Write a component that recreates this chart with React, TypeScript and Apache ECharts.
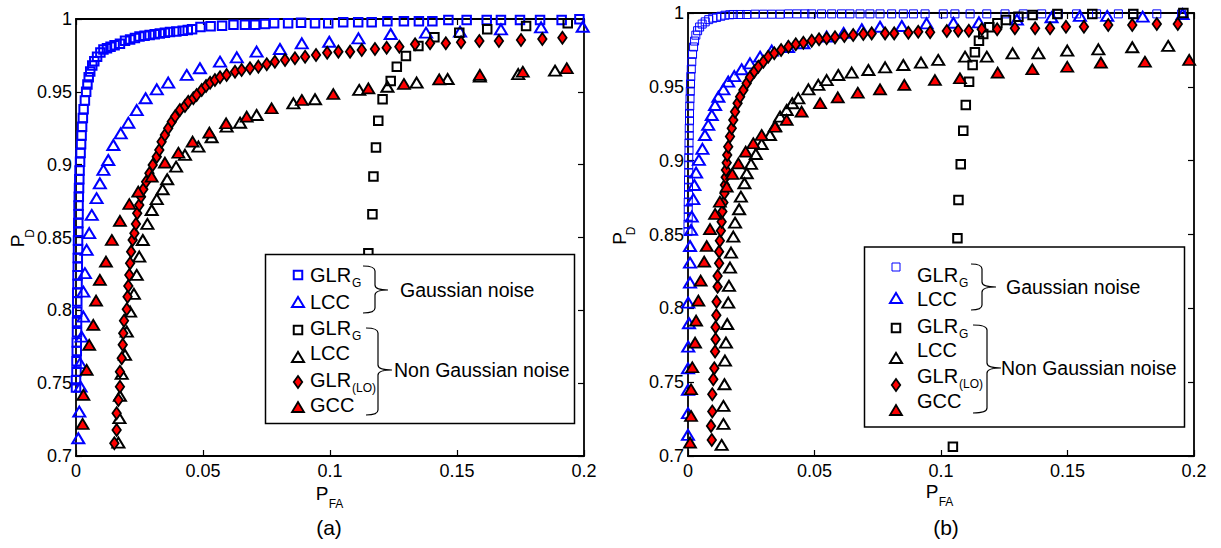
import React, { useEffect, useRef } from "react";
import * as echarts from "echarts";

const FONT = "'Liberation Sans', Arial, Helvetica, sans-serif";

// ---------- (a) ----------
const aGlrGauss: number[][] = [
  [0.0, 0.747], [0.0, 0.752], [0.0002, 0.758], [0.0002, 0.765], [0.0003, 0.772], [0.0003, 0.778],
  [0.0004, 0.785], [0.0004, 0.792], [0.0005, 0.799], [0.0005, 0.806], [0.0005, 0.812], [0.0006, 0.818],
  [0.0006, 0.824], [0.0007, 0.83], [0.0007, 0.836], [0.0008, 0.842], [0.0008, 0.848], [0.0009, 0.854],
  [0.0009, 0.86], [0.001, 0.866], [0.001, 0.872], [0.0011, 0.878], [0.0012, 0.884], [0.0013, 0.89],
  [0.0014, 0.896], [0.0016, 0.902], [0.0018, 0.908], [0.002, 0.914], [0.0022, 0.92], [0.0024, 0.926],
  [0.0027, 0.932], [0.003, 0.938], [0.0035, 0.944], [0.004, 0.95], [0.0045, 0.955], [0.005, 0.96],
  [0.0056, 0.964], [0.0064, 0.968], [0.0072, 0.971], [0.0083, 0.974], [0.0096, 0.977], [0.0108, 0.979],
  [0.0122, 0.98], [0.0136, 0.981], [0.0152, 0.982], [0.0173, 0.983], [0.0193, 0.985], [0.0213, 0.986],
  [0.0232, 0.987], [0.025, 0.988], [0.027, 0.9885], [0.029, 0.989], [0.031, 0.9895], [0.033, 0.99],
  [0.035, 0.9905], [0.037, 0.991], [0.0395, 0.9915], [0.042, 0.992], [0.044, 0.9925], [0.0457, 0.993],
  [0.049, 0.9945], [0.053, 0.995], [0.0575, 0.9953], [0.062, 0.996], [0.0665, 0.996], [0.0705, 0.996],
  [0.0744, 0.9966], [0.078, 0.997], [0.0835, 0.997], [0.0886, 0.9974], [0.0941, 0.997], [0.0993, 0.997],
  [0.1052, 0.9977], [0.1111, 0.9977], [0.1164, 0.9977], [0.1226, 0.9984], [0.1291, 0.9984], [0.135, 0.9984],
  [0.1403, 0.9984], [0.1466, 0.9993], [0.1538, 0.9993], [0.1617, 0.9993], [0.1673, 0.9993], [0.1748, 0.9993],
  [0.1827, 0.9993], [0.1912, 0.9993], [0.1982, 0.9998],
];
const aLccGauss: number[][] = [
  [0.0009, 0.7122], [0.0013, 0.7305], [0.0018, 0.7476], [0.0016, 0.7637], [0.0022, 0.782], [0.0029, 0.7957],
  [0.0029, 0.8128], [0.0035, 0.8255], [0.0042, 0.8415], [0.0052, 0.853], [0.0062, 0.8655], [0.0081, 0.877],
  [0.0094, 0.8872], [0.0108, 0.8964], [0.0127, 0.9032], [0.0147, 0.9135], [0.0176, 0.9215], [0.0206, 0.9288],
  [0.0239, 0.9375], [0.0274, 0.9456], [0.0318, 0.9517], [0.0363, 0.9563], [0.0436, 0.9616], [0.0488, 0.9662],
  [0.0567, 0.9707], [0.0633, 0.9737], [0.0711, 0.9776], [0.0803, 0.9794], [0.0889, 0.9833], [0.0997, 0.9844],
  [0.1112, 0.9867], [0.1239, 0.9897], [0.1378, 0.9906], [0.1512, 0.9913], [0.1673, 0.9929], [0.1831, 0.9943],
  [0.1995, 0.9947],
];
const aGlrNonGauss: number[][] = [
  [0.1151, 0.8392], [0.1167, 0.866], [0.1171, 0.8918], [0.1181, 0.9117], [0.119, 0.9302], [0.1207, 0.9449],
  [0.1239, 0.9574], [0.1263, 0.9673], [0.1299, 0.9746], [0.1348, 0.9815], [0.1411, 0.9874], [0.1509, 0.9906],
  [0.1619, 0.9929], [0.1772, 0.9952], [0.1936, 0.997],
];
const aLccNonGauss: number[][] = [
  [0.0167, 0.7092], [0.0171, 0.726], [0.0173, 0.7413], [0.018, 0.7564], [0.0193, 0.7694], [0.02, 0.7854],
  [0.0213, 0.7991], [0.0228, 0.8113], [0.0239, 0.8243], [0.0249, 0.8369], [0.0263, 0.8483], [0.0281, 0.8593],
  [0.0298, 0.8689], [0.0318, 0.8763], [0.0341, 0.8831], [0.0359, 0.89], [0.0394, 0.8986], [0.0429, 0.9067],
  [0.0482, 0.9124], [0.0534, 0.9188], [0.0593, 0.9261], [0.0646, 0.9288], [0.0711, 0.9341], [0.0856, 0.9421],
  [0.0941, 0.9449], [0.1115, 0.9513], [0.1226, 0.9535], [0.1341, 0.9563], [0.1463, 0.9588], [0.159, 0.9604],
  [0.1741, 0.9622], [0.1886, 0.9645],
];
const aGlrLo: number[][] = [
  [0.0151, 0.7088], [0.016, 0.7179], [0.016, 0.7294], [0.0167, 0.7385], [0.0173, 0.7476], [0.0173, 0.7579],
  [0.018, 0.7671], [0.0184, 0.7763], [0.0186, 0.7843], [0.0189, 0.7929], [0.02, 0.8007], [0.0203, 0.8094],
  [0.0206, 0.8167], [0.021, 0.8243], [0.0213, 0.8323], [0.0217, 0.8403], [0.0223, 0.8483], [0.023, 0.8529],
  [0.0236, 0.8593], [0.0241, 0.8666], [0.0249, 0.8723], [0.0256, 0.878], [0.0265, 0.8831], [0.0276, 0.8883],
  [0.0289, 0.8941], [0.0302, 0.8998], [0.0318, 0.9055], [0.0328, 0.9101], [0.0337, 0.9158], [0.035, 0.9204],
  [0.0363, 0.925], [0.0377, 0.9295], [0.039, 0.933], [0.0409, 0.9375], [0.0429, 0.9403], [0.0442, 0.9432],
  [0.0462, 0.9456], [0.0475, 0.9478], [0.0495, 0.9513], [0.0512, 0.954], [0.0528, 0.9563], [0.0547, 0.9581],
  [0.0567, 0.96], [0.0593, 0.9616], [0.0626, 0.9638], [0.0652, 0.965], [0.0685, 0.9662], [0.0718, 0.9673],
  [0.0751, 0.9689], [0.0783, 0.9707], [0.0823, 0.9719], [0.0862, 0.973], [0.0902, 0.9741], [0.0945, 0.9753],
  [0.0989, 0.9769], [0.1033, 0.9776], [0.1079, 0.9776], [0.1125, 0.9787], [0.1177, 0.9794], [0.1223, 0.9803],
  [0.1273, 0.981], [0.1335, 0.9826], [0.1394, 0.9833], [0.1456, 0.9833], [0.1516, 0.984], [0.1588, 0.9849],
  [0.1665, 0.9849], [0.1752, 0.9856], [0.1836, 0.9863], [0.1915, 0.9872],
];
const aGcc: number[][] = [
  [0.0026, 0.722], [0.0029, 0.742], [0.0042, 0.7591], [0.0052, 0.7763], [0.0068, 0.79], [0.0079, 0.8067],
  [0.0094, 0.8209], [0.0118, 0.8334], [0.0141, 0.8483], [0.0173, 0.8614], [0.021, 0.873], [0.0245, 0.8815],
  [0.0298, 0.8918], [0.035, 0.9014], [0.0403, 0.9082], [0.0459, 0.9158], [0.0525, 0.922], [0.0591, 0.9284],
  [0.0672, 0.933], [0.077, 0.9387], [0.0889, 0.9444], [0.1013, 0.9485], [0.1151, 0.9524], [0.1291, 0.9554],
  [0.143, 0.9586], [0.159, 0.9616], [0.1759, 0.9638], [0.1932, 0.9662],
];

// ---------- (b) ----------
const bGlrGauss: number[][] = [
  [0.0, 0.852], [0.0, 0.857], [0.0001, 0.862], [0.0001, 0.867], [0.0001, 0.872], [0.0002, 0.877],
  [0.0002, 0.882], [0.0002, 0.887], [0.0003, 0.892], [0.0003, 0.897], [0.0003, 0.902], [0.0004, 0.907],
  [0.0004, 0.912], [0.0005, 0.917], [0.0005, 0.922], [0.0006, 0.927], [0.0006, 0.932], [0.0007, 0.937],
  [0.0008, 0.942], [0.0009, 0.947], [0.001, 0.952], [0.0011, 0.957], [0.0013, 0.962], [0.0015, 0.967],
  [0.0018, 0.972], [0.0022, 0.977], [0.0026, 0.981], [0.0031, 0.985], [0.0038, 0.988], [0.0046, 0.9905],
  [0.0056, 0.9925], [0.0068, 0.994], [0.0082, 0.9955], [0.0098, 0.9965], [0.0113, 0.997], [0.013, 0.9978],
  [0.0146, 0.9985], [0.0165, 0.9988], [0.0179, 0.999], [0.0206, 0.999], [0.0232, 0.999], [0.0265, 0.9992],
  [0.0298, 0.9992], [0.0331, 0.9992], [0.0364, 0.9992], [0.0397, 0.9994], [0.043, 0.9994], [0.0462, 0.9994],
  [0.0489, 0.9994], [0.0528, 0.9994], [0.0568, 0.9994], [0.0607, 0.9994], [0.064, 0.9994], [0.068, 0.9994],
  [0.0719, 0.9994], [0.0759, 0.9994], [0.0805, 0.9994], [0.0851, 0.9994], [0.0891, 0.9994], [0.0937, 0.9994],
  [0.1009, 0.9994], [0.1055, 0.9994], [0.1115, 0.9994], [0.1181, 0.9994], [0.1253, 0.9994], [0.1325, 0.9994],
  [0.1398, 0.9994], [0.1464, 0.9994], [0.1536, 0.9994], [0.1615, 0.9994], [0.1701, 0.9994], [0.176, 0.9994],
  [0.1853, 0.9994], [0.1951, 0.9994],
];
const bLccGauss: number[][] = [
  [0.0, 0.7143], [0.0, 0.729], [0.0, 0.7448], [0.0, 0.7594], [0.0001, 0.7741], [0.0004, 0.7899],
  [0.0001, 0.8039], [0.0008, 0.8174], [0.0008, 0.8309], [0.0008, 0.8422], [0.0012, 0.8531], [0.0015, 0.8621],
  [0.0021, 0.8739], [0.0025, 0.8835], [0.0032, 0.8919], [0.0043, 0.9005], [0.0057, 0.908], [0.0067, 0.9174],
  [0.008, 0.9242], [0.0094, 0.9309], [0.0107, 0.9377], [0.012, 0.9433], [0.014, 0.9483], [0.0159, 0.9535],
  [0.0183, 0.9573], [0.0212, 0.9619], [0.0245, 0.9659], [0.0285, 0.9704], [0.0331, 0.9745], [0.0395, 0.977],
  [0.0456, 0.9795], [0.0548, 0.984], [0.0615, 0.9865], [0.0687, 0.989], [0.0759, 0.9907], [0.0845, 0.9912],
  [0.0943, 0.993], [0.1049, 0.9934], [0.115, 0.9937], [0.13, 0.9955], [0.1437, 0.9971], [0.1549, 0.998],
  [0.1657, 0.998], [0.1797, 0.9975], [0.1955, 0.9993],
];
const bGlrNonGauss: number[][] = [
  [0.1047, 0.7062], [0.1065, 0.8475], [0.1069, 0.8734], [0.1078, 0.8976], [0.1088, 0.9203], [0.1098, 0.9377],
  [0.1111, 0.9535], [0.1125, 0.9648], [0.1134, 0.9734], [0.115, 0.9812], [0.1167, 0.9858], [0.1191, 0.9903],
  [0.1223, 0.993], [0.1257, 0.9953], [0.1306, 0.9975], [0.1362, 0.9986], [0.146, 0.9993], [0.1598, 0.9993],
  [0.176, 0.9993], [0.1958, 1.0],
];
const bLccNonGauss: number[][] = [
  [0.0133, 0.7075], [0.014, 0.7217], [0.014, 0.7339], [0.0144, 0.7486], [0.0146, 0.7646], [0.015, 0.7768],
  [0.0155, 0.7894], [0.0159, 0.8039], [0.0162, 0.8152], [0.0166, 0.8276], [0.017, 0.8377], [0.0179, 0.8486],
  [0.0186, 0.858], [0.0202, 0.8671], [0.0209, 0.8756], [0.0223, 0.8847], [0.0232, 0.8915], [0.0249, 0.8978],
  [0.0268, 0.9045], [0.0291, 0.9113], [0.0324, 0.9174], [0.0344, 0.9235], [0.0364, 0.9298], [0.039, 0.9343],
  [0.0412, 0.9389], [0.0436, 0.9422], [0.0476, 0.9483], [0.0515, 0.9513], [0.0548, 0.9546], [0.0594, 0.958],
  [0.0647, 0.9596], [0.0713, 0.9614], [0.0779, 0.9632], [0.0851, 0.9648], [0.0921, 0.9664], [0.0989, 0.9682],
  [0.1095, 0.9704], [0.1181, 0.9704], [0.1283, 0.9727], [0.1385, 0.9727], [0.1499, 0.9745], [0.1622, 0.9754],
  [0.1756, 0.9768], [0.1898, 0.9777],
];
const bGlrLo: number[][] = [
  [0.0094, 0.7109], [0.0091, 0.7204], [0.0096, 0.7301], [0.0096, 0.7418], [0.01, 0.752], [0.0104, 0.7594],
  [0.0107, 0.7707], [0.0109, 0.7791], [0.0109, 0.7872], [0.0112, 0.7953], [0.0113, 0.8045], [0.0117, 0.8147],
  [0.0117, 0.8219], [0.0123, 0.8305], [0.0123, 0.8384], [0.0126, 0.8458], [0.013, 0.8526], [0.0133, 0.8587],
  [0.0136, 0.8655], [0.014, 0.8716], [0.0144, 0.8779], [0.0146, 0.8835], [0.0149, 0.8888], [0.015, 0.8937],
  [0.0153, 0.8986], [0.0155, 0.9039], [0.0159, 0.9095], [0.0166, 0.9163], [0.0173, 0.9219], [0.0179, 0.9276],
  [0.0186, 0.9332], [0.0196, 0.9389], [0.0206, 0.9433], [0.0219, 0.9479], [0.0232, 0.9524], [0.0245, 0.9565],
  [0.0262, 0.9603], [0.0278, 0.9636], [0.0298, 0.967], [0.0317, 0.9704], [0.0341, 0.9727], [0.0368, 0.9749],
  [0.0397, 0.9772], [0.0426, 0.9788], [0.0456, 0.9799], [0.0489, 0.9812], [0.0518, 0.9822], [0.0548, 0.9829],
  [0.0581, 0.9835], [0.0618, 0.9844], [0.0653, 0.9851], [0.0693, 0.9858], [0.0726, 0.9862], [0.0779, 0.9862],
  [0.0815, 0.9862], [0.0871, 0.9867], [0.091, 0.9873], [0.0957, 0.9869], [0.1023, 0.9878], [0.1068, 0.988],
  [0.111, 0.988], [0.1161, 0.989], [0.1222, 0.989], [0.1292, 0.9896], [0.1372, 0.9896], [0.1431, 0.9896],
  [0.1494, 0.9907], [0.1565, 0.9907], [0.1661, 0.9919], [0.1756, 0.9919], [0.1853, 0.9926], [0.1936, 0.9926],
];
const bGcc: number[][] = [
  [0.0008, 0.7091], [0.0012, 0.7271], [0.0012, 0.7452], [0.0017, 0.7601], [0.0028, 0.7768], [0.0032, 0.7917],
  [0.0041, 0.8052], [0.005, 0.8188], [0.0064, 0.8316], [0.0074, 0.8422], [0.0087, 0.8536], [0.0107, 0.8639],
  [0.0126, 0.8722], [0.0153, 0.8824], [0.0175, 0.891], [0.0199, 0.8982], [0.0228, 0.9061], [0.0258, 0.9118],
  [0.0291, 0.9174], [0.0344, 0.923], [0.039, 0.9276], [0.0449, 0.9332], [0.0522, 0.9389], [0.0592, 0.9429],
  [0.0671, 0.946], [0.0759, 0.9483], [0.0855, 0.9513], [0.0976, 0.9546], [0.1075, 0.9558], [0.1224, 0.9596],
  [0.1361, 0.9619], [0.1499, 0.9636], [0.1632, 0.9664], [0.1806, 0.967], [0.1981, 0.9682],
];

// Axis ranges and ticks
const X_MIN = 0, X_MAX = 0.2, X_STEP = 0.05;
const Y_MIN = 0.7, Y_MAX = 1, Y_STEP = 0.05;

const BLUE = "#0000ff";
const RED = "#ff0000";
const BLACK = "#000000";
const HOLLOW = "rgba(0,0,0,0)";

// Curly braces for the legend groups
function braceD(x0: number, y0: number, y1: number, xv: number, xt: number, ym: number) {
  const r = 5;
  return `M${x0} ${y0} Q${xv} ${y0} ${xv} ${y0 + r} L${xv} ${ym - r} Q${xv} ${ym} ${xt} ${ym} ` +
    `Q${xv} ${ym} ${xv} ${ym + r} L${xv} ${y1 - r} Q${xv} ${y1} ${x0} ${y1}`;
}
echarts.graphic.registerShape("braceA1", echarts.graphic.extendPath(braceD(363, 266, 313, 375, 388, 290), {}));
echarts.graphic.registerShape("braceA2", echarts.graphic.extendPath(braceD(366, 328, 415, 378, 392, 370), {}));
echarts.graphic.registerShape("braceB1", echarts.graphic.extendPath(braceD(971, 264, 310, 982, 996, 287), {}));
echarts.graphic.registerShape("braceB2", echarts.graphic.extendPath(braceD(973, 325, 413, 987, 1001, 368), {}));

const fmt = (v: number) => String(Number(v.toFixed(2)));

function xAxis(gridIndex: number, position: "bottom" | "top") {
  return {
    type: "value", gridIndex, position, min: X_MIN, max: X_MAX, interval: X_STEP,
    axisLine: { show: true, onZero: false, lineStyle: { color: BLACK, width: 1.8 } },
    axisTick: { show: true, inside: true, length: 6, lineStyle: { color: BLACK, width: 1.2 } },
    axisLabel: {
      show: position === "bottom", margin: 6, color: BLACK, fontSize: 18, fontFamily: FONT,
      formatter: fmt, showMinLabel: true, showMaxLabel: true,
    },
    splitLine: { show: false },
  };
}
function yAxis(gridIndex: number, position: "left" | "right") {
  return {
    type: "value", gridIndex, position, min: Y_MIN, max: Y_MAX, interval: Y_STEP,
    axisLine: { show: true, onZero: false, lineStyle: { color: BLACK, width: 1.8 } },
    axisTick: { show: true, inside: true, length: 6, lineStyle: { color: BLACK, width: 1.2 } },
    axisLabel: {
      show: position === "left", margin: 4, color: BLACK, fontSize: 18, fontFamily: FONT,
      formatter: fmt, showMinLabel: true, showMaxLabel: true,
    },
    splitLine: { show: false },
  };
}

type Mk = "sq" | "tri" | "dia";
function symbolSizeOf(mk: Mk, thin: boolean) {
  if (mk === "sq") return thin ? 8 : 8.5;
  if (mk === "tri") return [12, 10];
  return [8.5, 12];
}
function series(name: string, data: number[][], axis: number, mk: Mk, stroke: string, fill: string, lw: number) {
  const symbol = mk === "sq" ? "rect" : mk === "tri" ? "triangle" : "diamond";
  return {
    type: "scatter", name, data, xAxisIndex: axis, yAxisIndex: axis, symbol,
    symbolSize: symbolSizeOf(mk, lw < 1.5),
    clip: false, silent: true, emphasis: { disabled: true },
    itemStyle: { color: fill, borderColor: stroke, borderWidth: lw, opacity: 1 },
  };
}

function marker(mk: Mk, cx: number, cy: number, stroke: string, fill: string, lw: number) {
  if (mk === "sq") {
    const h = lw < 1.5 ? 4 : 4.25;
    return { type: "rect", z: 60, shape: { x: cx - h, y: cy - h, width: 2 * h, height: 2 * h }, style: { fill, stroke, lineWidth: lw } };
  }
  if (mk === "tri") {
    return { type: "polygon", z: 60, shape: { points: [[cx - 6, cy + 5], [cx + 6, cy + 5], [cx, cy - 5]] }, style: { fill, stroke, lineWidth: lw } };
  }
  return { type: "polygon", z: 60, shape: { points: [[cx, cy - 6], [cx + 4.25, cy], [cx, cy + 6], [cx - 4.25, cy]] }, style: { fill, stroke, lineWidth: lw } };
}

function txt(text: string, x: number, y: number, size: number, align = "left") {
  return { type: "text", z: 60, x, y, style: { text, fontSize: size, fontFamily: FONT, fill: BLACK, align, verticalAlign: "middle" } };
}

interface LegendCfg {
  box: [number, number, number, number];
  mx: number; my: number[]; tx: number; ty: number[];
  thinSquare: boolean;
  braces: [string, string];
  g1: [number, number]; g2: [number, number];
}

function legend(c: LegendCfg) {
  const styles: [Mk, string, string, number][] = [
    ["sq", BLUE, HOLLOW, c.thinSquare ? 1 : 2],
    ["tri", BLUE, HOLLOW, 2],
    ["sq", BLACK, HOLLOW, 2],
    ["tri", BLACK, HOLLOW, 2],
    ["dia", BLACK, RED, 1.8],
    ["tri", BLACK, RED, 1.8],
  ];
  const names = ["GLR", "LCC", "GLR", "LCC", "GLR", "GCC"];
  const subs = ["G", "", "G", "", "(LO)", ""];
  const els: any[] = [
    { type: "rect", z: 55, shape: { x: c.box[0], y: c.box[1], width: c.box[2], height: c.box[3] }, style: { fill: "#fff", stroke: BLACK, lineWidth: 1.5 } },
  ];
  styles.forEach((s, i) => {
    els.push(marker(s[0], c.mx, c.my[i], s[1], s[2], s[3]));
    els.push(txt(names[i], c.tx, c.ty[i], 20));
    if (subs[i]) els.push(txt(subs[i], c.tx + 42, c.ty[i] + 8, 12));
  });
  els.push({ type: c.braces[0], z: 60, style: { fill: "none", stroke: BLACK, lineWidth: 1.2 } });
  els.push({ type: c.braces[1], z: 60, style: { fill: "none", stroke: BLACK, lineWidth: 1.2 } });
  els.push(txt("Gaussian noise", c.g1[0], c.g1[1], 19.5));
  els.push(txt("Non Gaussian noise", c.g2[0], c.g2[1], 19.5));
  return els;
}

function axisNames(pdX: number, pdY: number, pX: number, pY: number, cap: string, capX: number) {
  return [
    {
      type: "group", x: pdX, y: pdY, rotation: Math.PI / 2, z: 60,
      children: [txt("P", 0, 0, 19, "center"), txt("D", 7.5, 12, 12, "center")],
    },
    txt("P", pX, pY, 19, "center"),
    txt("FA", pX + 14, pY + 11, 12, "center"),
    txt(cap, capX, 527, 21, "center"),
  ];
}

export default function App() {
  const ref = useRef<HTMLDivElement>(null);
  useEffect(() => {
    if (!ref.current) return;
    const chart = echarts.init(ref.current, undefined, { renderer: "svg" });
    chart.setOption({
      animation: false,
      backgroundColor: "#ffffff",
      grid: [
        { left: 76, top: 19, width: 508, height: 437 },
        { left: 688, top: 13, width: 506, height: 443 },
      ],
      xAxis: [xAxis(0, "bottom"), xAxis(0, "top"), xAxis(1, "bottom"), xAxis(1, "top")],
      yAxis: [yAxis(0, "left"), yAxis(0, "right"), yAxis(1, "left"), yAxis(1, "right")],
      series: [
        series("GLR_G (Gaussian)", aGlrGauss, 0, "sq", BLUE, HOLLOW, 2),
        series("LCC (Gaussian)", aLccGauss, 0, "tri", BLUE, HOLLOW, 2),
        series("GLR_G (non Gaussian)", aGlrNonGauss, 0, "sq", BLACK, HOLLOW, 2),
        series("LCC (non Gaussian)", aLccNonGauss, 0, "tri", BLACK, HOLLOW, 2),
        series("GLR(LO)", aGlrLo, 0, "dia", BLACK, RED, 1.8),
        series("GCC", aGcc, 0, "tri", BLACK, RED, 1.8),
        series("GLR_G (Gaussian) b", bGlrGauss, 2, "sq", BLUE, HOLLOW, 1),
        series("LCC (Gaussian) b", bLccGauss, 2, "tri", BLUE, HOLLOW, 2),
        series("GLR_G (non Gaussian) b", bGlrNonGauss, 2, "sq", BLACK, HOLLOW, 2),
        series("LCC (non Gaussian) b", bLccNonGauss, 2, "tri", BLACK, HOLLOW, 2),
        series("GLR(LO) b", bGlrLo, 2, "dia", BLACK, RED, 1.8),
        series("GCC b", bGcc, 2, "tri", BLACK, RED, 1.8),
      ],
      graphic: [
        ...legend({
          box: [265.5, 254.5, 309, 169], mx: 298, my: [275, 302, 330, 357, 382, 407],
          tx: 310, ty: [275, 302, 328, 353, 380, 405], thinSquare: false,
          braces: ["braceA1", "braceA2"], g1: [400, 290], g2: [394, 370],
        }),
        ...legend({
          box: [864.5, 247, 320, 180], mx: 896, my: [267, 298, 328, 358, 385, 410],
          tx: 917, ty: [275, 299, 326, 350, 376, 401], thinSquare: true,
          braces: ["braceB1", "braceB2"], g1: [1006, 287], g2: [1001, 368],
        }),
        ...axisNames(17.5, 241, 322, 493, "(a)", 329),
        ...axisNames(619, 238.5, 932, 491, "(b)", 946),
      ],
    });
    return () => chart.dispose();
  }, []);
  return (
    <div
      ref={ref}
      style={{ position: "fixed", left: 0, top: 0, width: 1221, height: 548, background: "#fff" }}
    />
  );
}
